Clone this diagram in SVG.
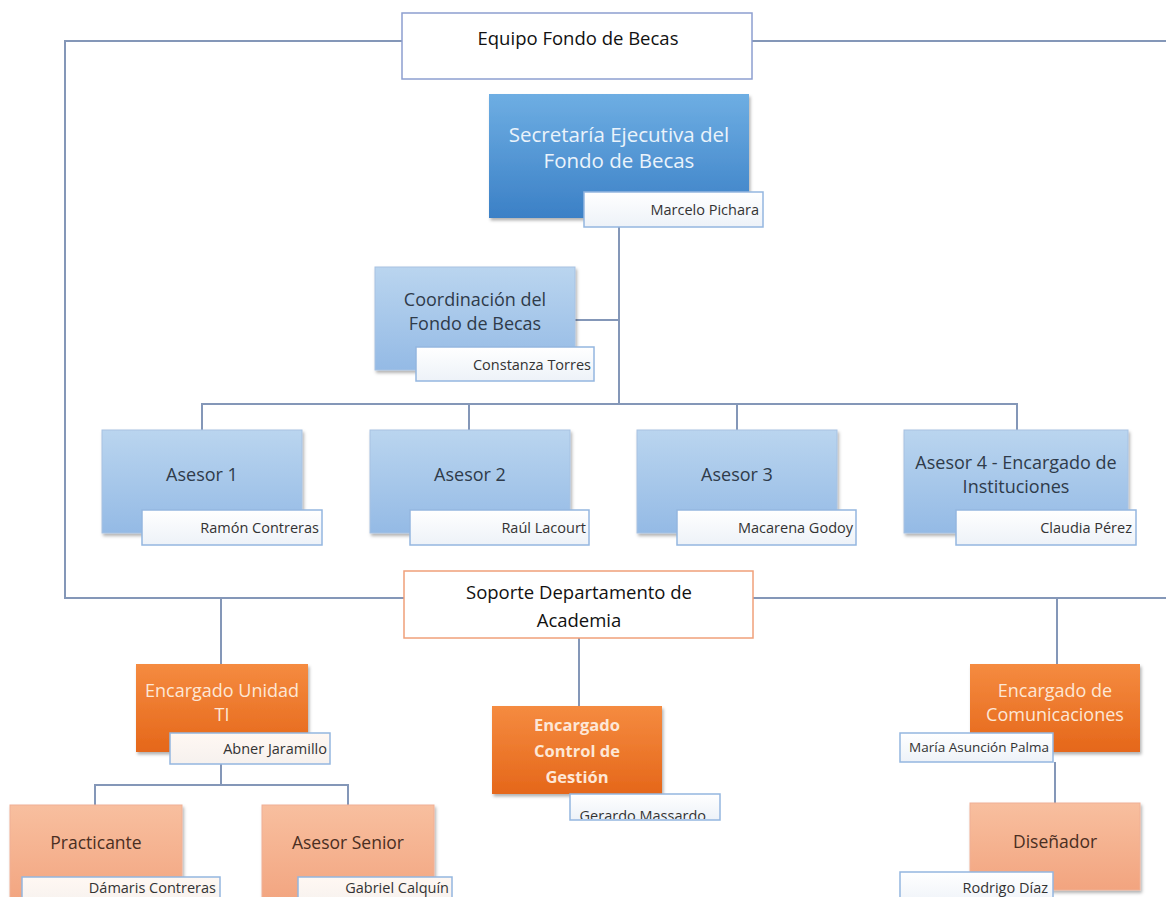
<svg xmlns="http://www.w3.org/2000/svg" width="1166" height="897" viewBox="0 0 1166 897">
<defs>
<linearGradient id="gDark" x1="0" y1="0" x2="0" y2="1"><stop offset="0" stop-color="#6eaee3"/><stop offset="1" stop-color="#3b80c6"/></linearGradient>
<linearGradient id="gLight" x1="0" y1="0" x2="0" y2="1"><stop offset="0" stop-color="#bad5ef"/><stop offset="1" stop-color="#94bae5"/></linearGradient>
<linearGradient id="gOr" x1="0" y1="0" x2="0" y2="1"><stop offset="0" stop-color="#f58b40"/><stop offset="1" stop-color="#e5671a"/></linearGradient>
<linearGradient id="gPeach" x1="0" y1="0" x2="0" y2="1"><stop offset="0" stop-color="#f8bf9f"/><stop offset="1" stop-color="#f2a47f"/></linearGradient>
<linearGradient id="gName" x1="0" y1="0" x2="0" y2="1"><stop offset="0" stop-color="#ffffff"/><stop offset="1" stop-color="#edf2f8"/></linearGradient>
<linearGradient id="gNameO" x1="0" y1="0" x2="0" y2="1"><stop offset="0" stop-color="#fff8f3"/><stop offset="1" stop-color="#f6f1ee"/></linearGradient>
<filter id="sh" x="-10%" y="-10%" width="125%" height="130%"><feDropShadow dx="1.5" dy="2.5" stdDeviation="1.8" flood-color="#000" flood-opacity="0.3"/></filter>
<clipPath id="clipG"><rect x="570" y="794" width="150" height="25"/></clipPath>
</defs>
<style>
text{font-family:"Open Sans","Liberation Sans",sans-serif;}
.con{fill:none;stroke:#8497b8;stroke-width:2}
.dark{fill:url(#gDark);filter:url(#sh)}
.light{fill:url(#gLight);stroke:#a7c2e2;stroke-width:1;filter:url(#sh)}
.or{fill:url(#gOr);filter:url(#sh)}
.peach{fill:url(#gPeach);stroke:#f0b095;stroke-width:1;filter:url(#sh)}
.name{fill:url(#gName);stroke:#94b6e0;stroke-width:1.5}
.nameO{fill:url(#gNameO);stroke:#94b6e0;stroke-width:1.5}
.frame{fill:#fff;stroke:#8d9fd0;stroke-width:1.5}
.frameO{fill:#fff;stroke:#f0a07a;stroke-width:1.5}
.tW{fill:#eaf3fb;font-size:20.5px;text-anchor:middle}
.tD{fill:#2f3b4a;font-size:18px;text-anchor:middle}
.tO{fill:#fde7d6;font-size:18px;text-anchor:middle}
.tOb{fill:#fde7d6;font-size:16.5px;font-weight:bold;text-anchor:middle}
.tP{fill:#4a2e22;font-size:17.5px;text-anchor:middle}
.tN{fill:#333;font-size:14.5px;text-anchor:end}
.tF{fill:#111;font-size:18.5px;text-anchor:middle}
</style>
<g id="connectors">
<polyline class="con" points="402,41 65,41 65,598 404,598"/>
<line class="con" x1="752" y1="41" x2="1166" y2="41"/>
<line class="con" x1="753" y1="598" x2="1166" y2="598"/>
<line class="con" x1="619" y1="227" x2="619" y2="404" stroke="#6a80a8"/>
<line class="con" x1="575" y1="320" x2="619" y2="320"/>
<polyline class="con" points="202,430 202,404 1017,404 1017,430"/>
<line class="con" x1="469" y1="404" x2="469" y2="430"/>
<line class="con" x1="737" y1="404" x2="737" y2="430"/>
<line class="con" x1="221" y1="598" x2="221" y2="664"/>
<line class="con" x1="1057" y1="598" x2="1057" y2="664"/>
<line class="con" x1="579" y1="638" x2="579" y2="706"/>
<line class="con" x1="221" y1="764" x2="221" y2="785"/>
<polyline class="con" points="95,805 95,785 348,785 348,805"/>
<line class="con" x1="1055" y1="762" x2="1055" y2="803"/>
</g>
<g id="equipo">
<rect class="frame" x="402" y="13" width="350" height="66"/>
<text class="tF" x="578" y="45">Equipo Fondo de Becas</text>
</g>
<g id="secretaria">
<rect class="dark" x="489" y="94" width="260" height="124"/>
<text class="tW" x="619" y="142">Secretaría Ejecutiva del</text>
<text class="tW" x="619" y="168">Fondo de Becas</text>
<rect class="name" x="584" y="192" width="179" height="35"/>
<text class="tN" x="759" y="215">Marcelo Pichara</text>
</g>
<g id="coordinacion">
<rect class="light" x="375" y="267" width="200" height="103"/>
<text class="tD" x="475" y="306">Coordinación del</text>
<text class="tD" x="475" y="330">Fondo de Becas</text>
<rect class="name" x="416" y="347" width="178" height="34"/>
<text class="tN" x="591" y="370">Constanza Torres</text>
</g>
<g id="asesor1">
<rect class="light" x="102" y="430" width="200" height="103"/>
<text class="tD" x="202" y="481">Asesor 1</text>
<rect class="name" x="142" y="510" width="180" height="35"/>
<text class="tN" x="319" y="533">Ramón Contreras</text>
</g>
<g id="asesor2">
<rect class="light" x="370" y="430" width="200" height="103"/>
<text class="tD" x="470" y="481">Asesor 2</text>
<rect class="name" x="410" y="510" width="179" height="35"/>
<text class="tN" x="586" y="533">Raúl Lacourt</text>
</g>
<g id="asesor3">
<rect class="light" x="637" y="430" width="200" height="103"/>
<text class="tD" x="737" y="481">Asesor 3</text>
<rect class="name" x="677" y="510" width="179" height="35"/>
<text class="tN" x="853" y="533">Macarena Godoy</text>
</g>
<g id="asesor4">
<rect class="light" x="904" y="430" width="224" height="103"/>
<text class="tD" x="1016" y="469">Asesor 4 - Encargado de</text>
<text class="tD" x="1016" y="493">Instituciones</text>
<rect class="name" x="956" y="510" width="180" height="35"/>
<text class="tN" x="1132" y="533">Claudia Pérez</text>
</g>
<g id="soporte">
<rect class="frameO" x="404" y="571" width="349" height="67"/>
<text class="tF" x="579" y="599">Soporte Departamento de</text>
<text class="tF" x="579" y="627">Academia</text>
</g>
<g id="unidadTI">
<rect class="or" x="136" y="664" width="172" height="88"/>
<text class="tO" x="222" y="697">Encargado Unidad</text>
<text class="tO" x="222" y="721">TI</text>
<rect class="nameO" x="170" y="733" width="160" height="31"/>
<text class="tN" x="327" y="754">Abner Jaramillo</text>
</g>
<g id="controlGestion">
<rect class="or" x="492" y="706" width="170" height="88"/>
<text class="tOb" x="577" y="731">Encargado</text>
<text class="tOb" x="577" y="757">Control de</text>
<text class="tOb" x="577" y="783">Gestión</text>
<rect class="name" x="570" y="794" width="150" height="26"/>
<text class="tN" x="706" y="821" clip-path="url(#clipG)">Gerardo Massardo</text>
</g>
<g id="comunicaciones">
<rect class="or" x="970" y="664" width="170" height="88"/>
<text class="tO" x="1055" y="697">Encargado de</text>
<text class="tO" x="1055" y="721">Comunicaciones</text>
<rect class="name" x="900" y="733" width="153" height="29"/>
<text class="tN" x="1049" y="752" style="font-size:13.5px">María Asunción Palma</text>
</g>
<g id="practicante">
<rect class="peach" x="10" y="805" width="172" height="100"/>
<text class="tP" x="96" y="849">Practicante</text>
<rect class="nameO" x="22" y="877" width="198" height="30"/>
<text class="tN" x="216" y="893">Dámaris Contreras</text>
</g>
<g id="asesorSenior">
<rect class="peach" x="262" y="805" width="172" height="100"/>
<text class="tP" x="348" y="849">Asesor Senior</text>
<rect class="nameO" x="298" y="877" width="154" height="30"/>
<text class="tN" x="449" y="893">Gabriel Calquín</text>
</g>
<g id="disenador">
<rect class="peach" x="970" y="803" width="170" height="87"/>
<text class="tP" x="1055" y="848">Diseñador</text>
<rect class="name" x="900" y="872" width="153" height="35"/>
<text class="tN" x="1048" y="893">Rodrigo  Díaz</text>
</g>
</svg>
